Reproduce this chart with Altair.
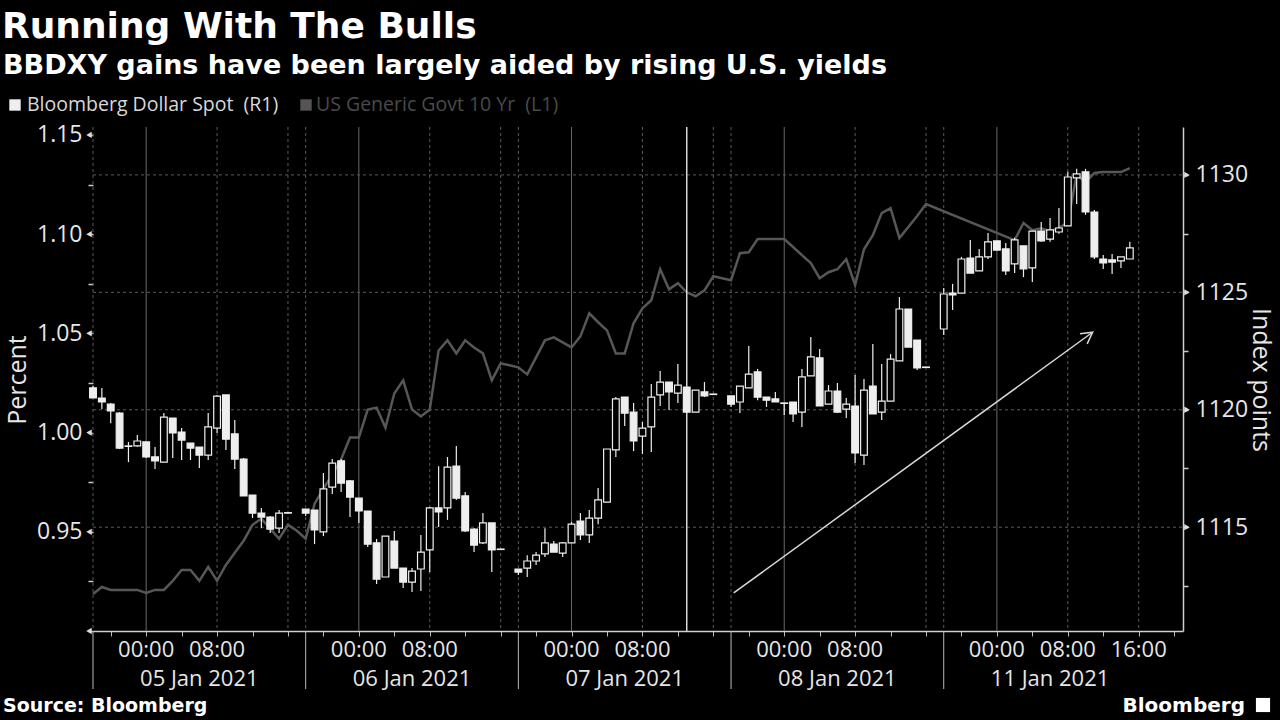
import altair as alt
import pandas as pd

# ---------------- text ----------------
TITLE = "Running With The Bulls"
SUBTITLE = "BBDXY gains have been largely aided by rising U.S. yields"
LEGEND_1 = "Bloomberg Dollar Spot\u00a0\u00a0(R1)"
LEGEND_2 = "US Generic Govt 10 Yr\u00a0\u00a0(L1)"
LEFT_TITLE = "Percent"
RIGHT_TITLE = "Index points"
SOURCE = "Source: Bloomberg"
BRAND = "Bloomberg"

# x = trading hours since 04 Jan 2021 18:00 (weekend removed)
time_label_t = [6, 14, 30, 38, 54, 62, 78, 86, 102, 110, 118]
time_label_text = ["00:00", "08:00", "00:00", "08:00", "00:00", "08:00",
                   "00:00", "08:00", "00:00", "08:00", "16:00"]
date_label_t = [12, 36, 60, 84, 108]
date_label_text = ["05 Jan 2021", "06 Jan 2021", "07 Jan 2021", "08 Jan 2021", "11 Jan 2021"]
day_sep_t = [0, 24, 48, 72, 96]
midnight_t = [6, 30, 54, 78, 102]
dashed_t = [14, 22, 38, 46, 62, 70, 86, 94, 110, 118]
marker_t = [67]

# ---------------- Bloomberg Dollar Spot hourly candles (R1) ----------------
candle_t = list(range(0, 23)) + list(range(24, 47)) + list(range(48, 71)) + \
    list(range(72, 95)) + list(range(96, 118))
candle_open = [
    1120.93, 1120.50, 1120.24, 1119.86, 1118.46, 1118.46, 1118.63, 1117.99, 1117.77, 1119.65,
    1119.05, 1118.58, 1118.41, 1118.07, 1119.22, 1120.63, 1118.97, 1117.90, 1116.37, 1115.60,
    1115.43, 1114.96, 1115.60,
    1115.77, 1115.73, 1114.80, 1116.71, 1117.82, 1116.97, 1116.24, 1115.69, 1114.33, 1112.88,
    1114.41, 1113.26, 1112.66, 1113.22, 1114.03, 1115.82, 1115.82, 1117.60, 1116.33, 1114.92,
    1114.33, 1115.18, 1114.07,
    1113.22, 1113.26, 1113.56, 1113.86, 1114.28, 1113.90, 1114.33, 1115.26, 1114.67, 1115.39,
    1116.07, 1118.29, 1120.54, 1119.90, 1118.88, 1119.27, 1120.63, 1121.18, 1120.71, 1120.97,
    1119.90, 1120.76, 1120.67,
    1120.59, 1120.33, 1120.93, 1121.61, 1120.54, 1120.46, 1120.29, 1120.33, 1119.90, 1121.44,
    1122.21, 1120.24, 1120.80, 1120.03, 1120.16, 1118.07, 1121.01, 1119.90, 1120.37, 1122.08,
    1124.29, 1122.97, 1121.82,
    1123.44, 1124.97, 1124.97, 1126.46, 1125.91, 1126.51, 1127.19, 1126.85, 1126.21, 1126.98,
    1126.04, 1127.61, 1127.27, 1127.57, 1127.83, 1129.87, 1130.13, 1128.42, 1126.42, 1126.38,
    1126.34, 1126.42,
]
candle_high = [
    1121.01, 1120.93, 1120.29, 1119.90, 1118.63, 1118.93, 1118.63, 1118.41, 1119.86, 1119.65,
    1119.22, 1118.58, 1118.41, 1119.86, 1120.63, 1120.63, 1119.56, 1117.95, 1116.37, 1115.82,
    1115.48, 1115.73, 1115.62,
    1115.77, 1115.73, 1117.31, 1117.90, 1117.90, 1117.01, 1116.24, 1115.69, 1114.50, 1114.62,
    1114.84, 1113.26, 1113.26, 1114.67, 1115.86, 1117.60, 1117.99, 1118.46, 1116.50, 1114.96,
    1115.60, 1115.18, 1114.07,
    1113.22, 1113.81, 1113.94, 1114.96, 1114.41, 1114.37, 1115.22, 1115.60, 1115.73, 1116.67,
    1118.33, 1120.54, 1120.54, 1120.29, 1119.48, 1121.10, 1121.65, 1121.18, 1121.95, 1120.97,
    1120.84, 1121.18, 1120.67,
    1120.59, 1121.01, 1122.72, 1121.74, 1120.54, 1120.76, 1120.29, 1120.33, 1121.74, 1123.10,
    1122.59, 1121.05, 1121.14, 1120.50, 1121.48, 1121.31, 1122.80, 1121.95, 1122.37, 1124.80,
    1124.29, 1122.97, 1121.82,
    1125.19, 1125.36, 1126.51, 1127.23, 1126.85, 1127.53, 1127.19, 1127.10, 1127.32, 1126.98,
    1127.61, 1128.00, 1128.17, 1128.59, 1130.13, 1130.26, 1130.26, 1128.51, 1126.59, 1126.63,
    1126.51, 1127.15,
]
candle_low = [
    1120.50, 1120.03, 1119.43, 1118.33, 1117.77, 1118.42, 1117.95, 1117.48, 1117.77, 1117.95,
    1117.86, 1117.86, 1117.52, 1117.86, 1119.01, 1118.29, 1117.48, 1116.33, 1115.39, 1114.96,
    1114.75, 1114.75, 1115.58,
    1115.48, 1114.28, 1114.62, 1116.41, 1116.50, 1115.43, 1115.18, 1114.16, 1112.58, 1112.88,
    1113.26, 1112.41, 1112.24, 1112.28, 1113.09, 1115.01, 1115.31, 1116.16, 1114.80, 1113.94,
    1114.28, 1113.09, 1114.05,
    1112.96, 1112.88, 1113.39, 1113.73, 1113.94, 1113.73, 1114.33, 1114.45, 1114.33, 1115.13,
    1116.07, 1117.99, 1119.31, 1118.24, 1118.12, 1118.20, 1120.16, 1119.99, 1120.29, 1119.90,
    1119.90, 1120.54, 1120.65,
    1120.12, 1119.86, 1120.93, 1120.41, 1120.12, 1120.33, 1119.78, 1119.48, 1119.27, 1121.44,
    1120.16, 1120.24, 1119.86, 1119.65, 1117.73, 1117.65, 1119.82, 1119.56, 1120.37, 1122.08,
    1122.67, 1121.69, 1121.80,
    1123.18, 1124.25, 1124.97, 1125.82, 1125.91, 1126.42, 1126.80, 1125.74, 1125.82, 1125.65,
    1125.44, 1127.15, 1127.15, 1127.49, 1127.83, 1128.76, 1128.30, 1126.42, 1125.99, 1125.78,
    1126.04, 1126.42,
]
candle_close = [
    1120.50, 1120.33, 1119.95, 1118.37, 1118.44, 1118.67, 1117.99, 1117.82, 1119.69, 1119.01,
    1118.71, 1118.37, 1118.07, 1119.27, 1120.58, 1118.75, 1117.90, 1116.33, 1115.60, 1115.43,
    1114.92, 1115.60, 1115.62,
    1115.60, 1114.88, 1116.63, 1117.73, 1116.88, 1116.28, 1115.69, 1114.28, 1112.79, 1114.62,
    1113.26, 1112.66, 1113.13, 1113.94, 1115.82, 1115.65, 1117.56, 1116.24, 1114.84, 1114.24,
    1115.18, 1114.03, 1114.05,
    1113.09, 1113.56, 1113.81, 1114.33, 1113.94, 1114.33, 1115.13, 1114.67, 1115.39, 1116.16,
    1118.33, 1120.46, 1119.86, 1118.67, 1119.22, 1120.54, 1121.18, 1120.76, 1121.05, 1119.90,
    1120.84, 1120.59, 1120.65,
    1120.24, 1121.01, 1121.52, 1120.54, 1120.41, 1120.33, 1120.27, 1119.82, 1121.40, 1122.25,
    1120.16, 1120.80, 1119.90, 1120.24, 1118.16, 1120.84, 1119.82, 1120.37, 1122.16, 1124.29,
    1122.67, 1121.78, 1121.80,
    1124.93, 1124.89, 1126.42, 1125.82, 1126.51, 1127.15, 1126.80, 1125.91, 1127.23, 1126.00,
    1127.61, 1127.19, 1127.66, 1127.74, 1129.91, 1130.04, 1128.42, 1126.51, 1126.25, 1126.29,
    1126.51, 1126.89,
]

# ---------------- US Generic Govt 10 Yr (L1) ----------------
yield_t = list(range(0, 95)) + [104, 105, 106, 107, 108, 109, 110, 111, 112, 113, 114, 115, 116, 117]
yield_v = [
    0.9187, 0.9222, 0.9207, 0.9207, 0.9207, 0.9207, 0.9192, 0.9207, 0.9207, 0.9253,
    0.9308, 0.9308, 0.9253, 0.9323, 0.9253, 0.9333, 0.9394, 0.9455, 0.9535, 0.9566,
    0.9515, 0.9465, 0.9535, 0.9505, 0.9465, 0.9641, 0.9717, 0.9788, 0.9864, 0.9975,
    0.9975, 1.0116, 1.0126, 1.0025, 1.0197, 1.0263, 1.0116, 1.0081, 1.0116, 1.0414,
    1.0465, 1.0399, 1.0465, 1.0429, 1.0399, 1.0263, 1.0349, 1.0339, 1.0329, 1.0293,
    1.0379, 1.0465, 1.0480, 1.0455, 1.0429, 1.0485, 1.0601, 1.0556, 1.0515, 1.0399,
    1.0399, 1.0551, 1.0626, 1.0667, 1.0823, 1.0722, 1.0753, 1.0707, 1.0687, 1.0717,
    1.0788, 1.0778, 1.0768, 1.0904, 1.0909, 1.0975, 1.0975, 1.0975, 1.0975, 1.0935,
    1.0894, 1.0854, 1.0778, 1.0808, 1.0823, 1.0874, 1.0743, 1.0924, 1.0995, 1.1106,
    1.1131, 1.0980, 1.1036, 1.1091, 1.1152,
    1.0970, 1.1056, 1.1020, 1.1030, 1.1015, 1.1030, 1.1061, 1.1298, 1.1263, 1.1308,
    1.1313, 1.1313, 1.1313, 1.1333,
]

# trend arrow (in data units: hours, index points)
arrow_t = [72.3, 112.8]
arrow_v = [1112.2, 1123.3]

left_ticks = [0.9, 0.925, 0.95, 0.975, 1.0, 1.025, 1.05, 1.075, 1.1, 1.125, 1.15]
left_major = [0.9, 0.95, 1.0, 1.05, 1.1, 1.15]
right_ticks = [1112.5, 1115, 1117.5, 1120, 1122.5, 1125, 1127.5, 1130]
right_major = [1115, 1120, 1125, 1130]

# ---------------- layout / style ----------------
W, H = 1090, 504
PAD = {"left": 93, "top": 127, "right": 97, "bottom": 89}
X_DOMAIN = [0, 123]
L_DOMAIN = [0.9, 1.154]
R_DOMAIN = [1110.58, 1132.04]
LAB = "Open Sans"
SANS = "Open Sans"
BOLD = "DejaVu Sans"
FG = "#e6e6e6"
GRID = "#5a5a5a"
LAB_SIZE = 23
XLAB_SIZE = 22

xs = alt.Scale(domain=X_DOMAIN, nice=False, zero=False)
ls = alt.Scale(domain=L_DOMAIN, nice=False, zero=False)
rs = alt.Scale(domain=R_DOMAIN, nice=False, zero=False)
X_AXIS = alt.Axis(values=list(range(2, 123, 4)), labels=False, tickSize=5,
                  tickColor="#bbbbbb", domainColor="#d0d0d0", domainWidth=1.5,
                  grid=False, title=None)


def X(field="t"):
    return alt.X(f"{field}:Q", scale=xs, axis=X_AXIS)


candles = pd.DataFrame({"t": candle_t, "open": candle_open, "high": candle_high,
                        "low": candle_low, "close": candle_close})
candles["up"] = candles["close"] > candles["open"]
candles["x1"] = candles["t"] - 0.38
candles["x2"] = candles["t"] + 0.38
yields = pd.DataFrame({"t": yield_t, "v": yield_v})

# vertical grid
vg_mid = alt.Chart(pd.DataFrame({"t": midnight_t})).mark_rule(color="#6a6a6a", strokeWidth=1).encode(
    x=X(), y=alt.value(0), y2=alt.value(H))
vg_dash = alt.Chart(pd.DataFrame({"t": dashed_t + day_sep_t})).mark_rule(
    color=GRID, strokeWidth=1, strokeDash=[3, 3]).encode(x=X(), y=alt.value(0), y2=alt.value(H))
vg_mark = alt.Chart(pd.DataFrame({"t": marker_t})).mark_rule(color="#d8d8d8", strokeWidth=1.5).encode(
    x=X(), y=alt.value(0), y2=alt.value(H))
day_sep = alt.Chart(pd.DataFrame({"t": day_sep_t})).mark_rule(color="#bbbbbb", strokeWidth=1).encode(
    x=X(), y=alt.value(H), y2=alt.value(H + 58))

# horizontal grid (right axis majors)
hg = alt.Chart(pd.DataFrame({"v": right_major})).mark_rule(
    color=GRID, strokeWidth=1, strokeDash=[3, 3]).encode(
    y=alt.Y("v:Q", scale=rs, axis=None), x=alt.value(0), x2=alt.value(W))

# yield line (left axis)
yline = alt.Chart(yields).mark_line(color="#575757", strokeWidth=2.5).encode(
    x=X(),
    y=alt.Y("v:Q", scale=ls, title=None,
            axis=alt.Axis(orient="left", values=left_ticks,
                          labelExpr="(datum.value > 0.92 && abs(datum.value*20 - round(datum.value*20)) < 0.01) ? format(datum.value, '.2f') : ''",
                          tickSize=5, tickColor="#cccccc", tickWidth=1.5,
                          labelFont=LAB, labelFontSize=LAB_SIZE, labelColor=FG, labelPadding=6,
                          labelFlush=False, labelOverlap=False, domain=False, grid=False)))

# candles (right axis)
wicks = alt.Chart(candles).mark_rule(color="#eeeeee", strokeWidth=1.2).encode(
    x=X(), y=alt.Y("low:Q", scale=rs, axis=None), y2="high:Q")
bodies = alt.Chart(candles).mark_rect(stroke="#eeeeee", strokeWidth=1.2).encode(
    x=alt.X("x1:Q", scale=xs, axis=X_AXIS), x2="x2:Q",
    y=alt.Y("open:Q", scale=rs, title=None,
            axis=alt.Axis(orient="right", values=right_ticks,
                          labelExpr="datum.value % 5 == 0 ? format(datum.value, 'd') : ''",
                          tickSize=5, tickColor="#cccccc", tickWidth=1.5,
                          domain=True, domainColor="#d0d0d0", domainWidth=1.5,
                          labelFont=LAB, labelFontSize=LAB_SIZE, labelColor=FG, labelPadding=7,
                          labelFlush=False, labelOverlap=False, grid=False)),
    y2="close:Q",
    fill=alt.condition("datum.up", alt.value("#000000"), alt.value("#eeeeee")))

# axis triangle markers
tri_left = alt.Chart(pd.DataFrame({"v": left_major})).mark_point(
    shape="triangle-left", filled=True, size=40, color="#dddddd", opacity=1).encode(
    y=alt.Y("v:Q", scale=ls, axis=None), x=alt.value(-4))
tri_right = alt.Chart(pd.DataFrame({"v": right_major})).mark_point(
    shape="triangle-right", filled=True, size=40, color="#dddddd", opacity=1).encode(
    y=alt.Y("v:Q", scale=rs, axis=None), x=alt.value(W + 4))

# trend arrow
arrow_df = pd.DataFrame({"t": arrow_t, "v": arrow_v})
arrow_line = alt.Chart(arrow_df).mark_line(color="#d8d8d8", strokeWidth=1.5).encode(
    x=X(), y=alt.Y("v:Q", scale=rs, axis=None))
arrow_head = alt.Chart(arrow_df.tail(1)).mark_point(
    shape="M -1 -0.55 L 0 0 L -1 0.55", filled=False, size=500, angle=324,
    stroke="#d8d8d8", strokeWidth=1.5, opacity=1).encode(
    x=X(), y=alt.Y("v:Q", scale=rs, axis=None))

# x labels
time_labels = alt.Chart(pd.DataFrame({"t": time_label_t, "s": time_label_text})).mark_text(
    font=LAB, fontSize=XLAB_SIZE, color=FG, baseline="middle", align="center").encode(
    x=X(), y=alt.value(H + 19), text="s:N")
date_labels = alt.Chart(pd.DataFrame({"t": date_label_t, "s": date_label_text})).mark_text(
    font=LAB, fontSize=XLAB_SIZE, color=FG, baseline="middle", align="center").encode(
    x=X(), y=alt.value(H + 48), text="s:N")


def label(text, x, y, **kw):
    return alt.Chart(pd.DataFrame({"s": [text]})).mark_text(**kw).encode(
        x=alt.value(x), y=alt.value(y), text="s:N")


title = label(TITLE, -91, -89, font=BOLD, fontWeight="bold", fontSize=36, color="#ffffff",
              align="left", baseline="alphabetic")
subtitle = label(SUBTITLE, -90, -53, font=BOLD, fontWeight="bold", fontSize=27, color="#ffffff",
                 align="left", baseline="alphabetic")
leg1 = label(LEGEND_1, -66, -22, font=LAB, fontSize=19.5, color="#d8d8d8", align="left", baseline="middle")
leg2 = label(LEGEND_2, 223, -22, font=LAB, fontSize=19.5, color="#4a4a4a", align="left", baseline="middle")
leg_sq = alt.Chart(pd.DataFrame({"c": ["#eeeeee", "#555555"], "px": [-78, 213]})).mark_point(
    shape="square", filled=True, size=130, opacity=1).encode(
    x=alt.X("px:Q", scale=None, axis=None), y=alt.value(-22), color=alt.Color("c:N", scale=None))
ltitle = label(LEFT_TITLE, -75, 253, font=SANS, fontSize=25, color=FG, angle=270,
               align="center", baseline="middle")
rtitle = label(RIGHT_TITLE, 1168, 253, font=SANS, fontSize=25, color=FG, angle=90,
               align="center", baseline="middle")
source = label(SOURCE, -90, 585, font=BOLD, fontWeight="bold", fontSize=19, color="#ffffff",
               align="left", baseline="alphabetic")
brand = label(BRAND, 1152, 585, font=BOLD, fontWeight="bold", fontSize=20, color="#ffffff",
              align="right", baseline="alphabetic")
brand_icon = alt.Chart(pd.DataFrame({"px": [1170]})).mark_point(
    shape="square", filled=True, size=200, color="#ffffff", opacity=1).encode(
    x=alt.X("px:Q", scale=None, axis=None), y=alt.value(578))

chart = alt.layer(
    vg_dash, vg_mid, day_sep, hg, yline, vg_mark, wicks, bodies,
    tri_left, tri_right, arrow_line, arrow_head,
    time_labels, date_labels, title, subtitle, leg_sq, leg1, leg2,
    ltitle, rtitle, source, brand, brand_icon,
).resolve_scale(y="independent").properties(
    width=W, height=H, padding=PAD, autosize=alt.AutoSizeParams(type="none"),
    background="#000000",
).configure_view(stroke=None)

chart.save("out.html", embed_options={"renderer": "svg", "actions": False})
